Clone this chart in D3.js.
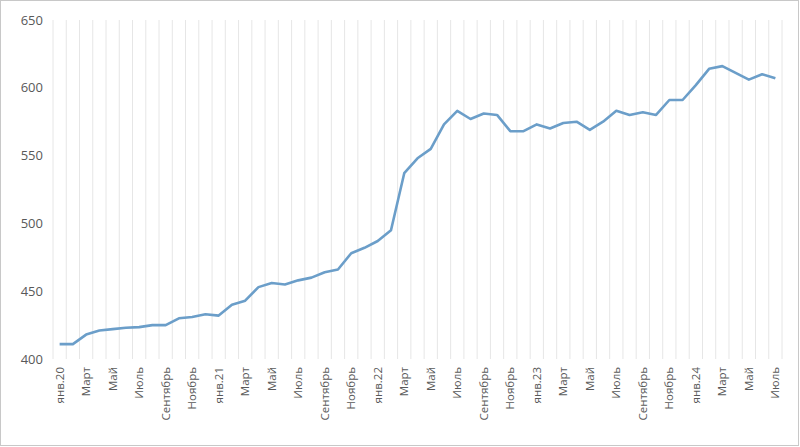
<!DOCTYPE html>
<html><head><meta charset="utf-8">
<script src="https://cdn.jsdelivr.net/npm/d3@7"></script>
<style>body{margin:0;background:#fff}svg{font-family:"Open Sans",sans-serif}</style>
</head><body>
<script>
const months = ["янв.20","Фев","Март","Апр","Май","Июнь","Июль","Авг","Сентябрь","Окт","Ноябрь","Дек",
  "янв.21","Фев","Март","Апр","Май","Июнь","Июль","Авг","Сентябрь","Окт","Ноябрь","Дек",
  "янв.22","Фев","Март","Апр","Май","Июнь","Июль","Авг","Сентябрь","Окт","Ноябрь","Дек",
  "янв.23","Фев","Март","Апр","Май","Июнь","Июль","Авг","Сентябрь","Окт","Ноябрь","Дек",
  "янв.24","Фев","Март","Апр","Май","Июнь","Июль"]
const values = [411,411,418,421,422,423,423.5,425,425,430,431,433,
  432,440,443,453,456,455,458,460,464,466,478,482,
  487,495,537,548,555,573,583,577,581,580,568,568,
  573,570,574,575,569,575,583,580,582,580,591,591,
  602,614,616,611,606,610,607]
const yTicks = [400,450,500,550,600,650]

const W = 800, H = 447
const m = {left:53, right:18, top:20, bottom:88}
const svg = d3.select("body").append("svg").attr("width", W).attr("height", H)
svg.append("rect").attr("x",0.5).attr("y",0.5).attr("width",W-2).attr("height",H-2)
  .attr("fill","none").attr("stroke","#c8c8c8")

const ids = months.map((d,i) => i)
const x = d3.scaleBand().domain(ids).range([m.left, W-m.right])
const y = d3.scaleLinear().domain([400,650]).range([H-m.bottom, m.top])

// vertical grid between categories
svg.append("g").selectAll("line").data(d3.range(ids.length+1)).join("line")
  .attr("x1", i => m.left + i*x.step()).attr("x2", i => m.left + i*x.step())
  .attr("y1", y(650)).attr("y2", y(400))
  .attr("stroke","#e6e6e6")

svg.append("g").selectAll("text").data(yTicks).join("text")
  .attr("x", m.left-10).attr("y", d => y(d)).attr("dy","0.35em")
  .attr("text-anchor","end").attr("font-size",13).attr("fill","#595959").text(d => d)

svg.append("g").selectAll("text").data(ids.filter(i => i%2==0)).join("text")
  .attr("transform", i => `translate(${x(i)+x.bandwidth()/2+4},${y(400)+8}) rotate(-90)`)
  .attr("text-anchor","end").attr("font-size",11.5).attr("fill","#595959").text(i => months[i])

svg.append("path").datum(values)
  .attr("fill","none").attr("stroke","#6b9ec9").attr("stroke-width",2.6).attr("stroke-linejoin","round")
  .attr("d", d3.line().x((d,i) => x(i)+x.bandwidth()/2).y(d => y(d)))
</script>
</body></html>
